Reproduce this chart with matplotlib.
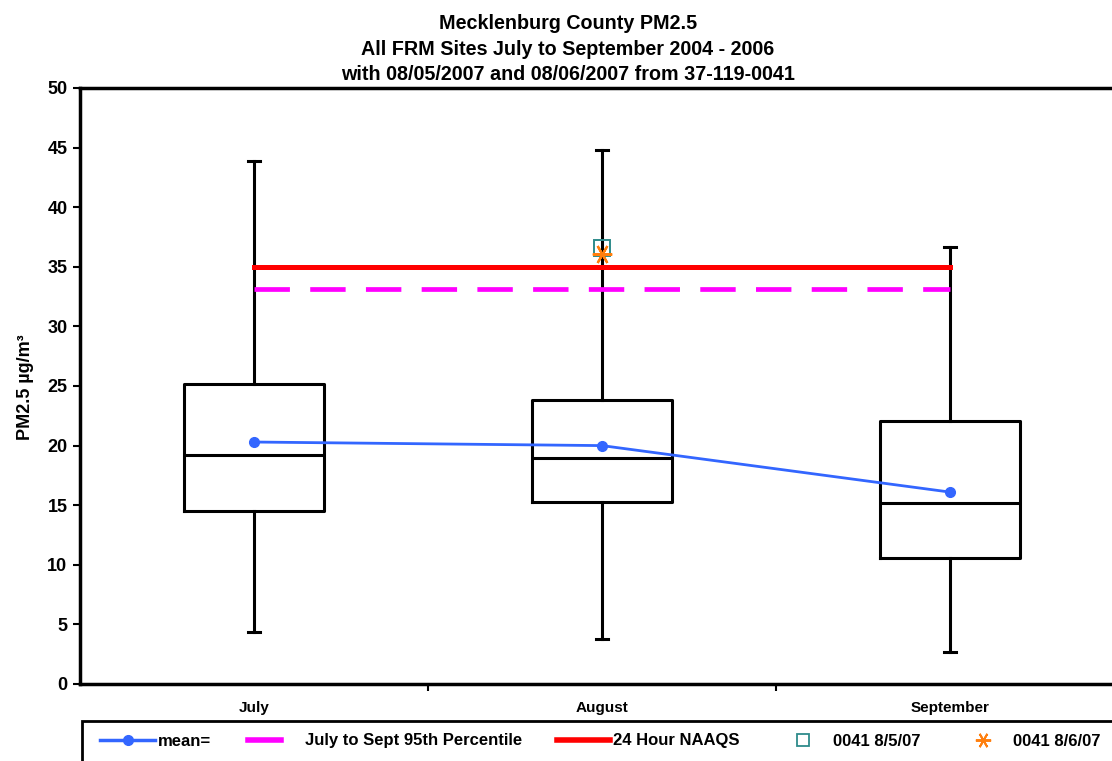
"""Mecklenburg County PM2.5 box plot, July-September 2004-2006."""

import matplotlib
matplotlib.use("Agg")
import matplotlib.pyplot as plt
from matplotlib.lines import Line2D
from matplotlib.patches import Rectangle

plt.rcParams["font.family"] = ["Liberation Sans", "DejaVu Sans"]
plt.rcParams["font.weight"] = "bold"

months = ["July", "August", "September"]
whisk_lo = [4.4, 3.8, 2.7]
q1 = [14.5, 15.3, 10.6]
median = [19.2, 19.0, 15.2]
q3 = [25.2, 23.8, 22.1]
whisk_hi = [43.9, 44.8, 36.7]
means = [20.3, 20.0, 16.1]

pct95 = 33.1
naaqs = 35.0
site_0805 = 36.6
site_0806 = 36.1

W, H = 1112, 761
fig = plt.figure(figsize=(W / 100, H / 100), dpi=100)
ax = fig.add_axes([80 / W, 1 - 684 / H, 1044 / W, 596 / H])

stats = [
    {"whislo": lo, "q1": a, "med": m, "q3": b, "whishi": hi, "label": name}
    for lo, a, m, b, hi, name in zip(whisk_lo, q1, median, q3, whisk_hi, months)
]
pos = [1, 2, 3]
ax.bxp(stats, positions=pos, widths=0.4, showfliers=False,
       boxprops=dict(color="black", lw=2.2),
       medianprops=dict(color="black", lw=2.2),
       whiskerprops=dict(color="black", lw=2.2),
       capprops=dict(color="black", lw=2.2),
       capwidths=0.035)

ax.plot([1, 3], [pct95, pct95], color="#FF00FF", lw=3.4, ls=(0, (7.5, 4.3)), zorder=3)
ax.plot([1, 3], [naaqs, naaqs], color="#FF0000", lw=3.6, zorder=3)
ax.plot(pos, means, color="#3366FF", lw=2, marker="o", ms=7, zorder=4)
ax.plot([2], [site_0805], ls="none", marker="s", ms=12, mfc="none",
        mec="#2E8B8B", mew=1.4, zorder=5)
ax.plot([2], [site_0806], ls="none", marker=(6, 2, 30), ms=14,
        mec="#FF7F0E", mew=1.6, zorder=6)

ax.set_xlim(0.5, 3.5)
ax.set_ylim(0, 50)
ax.set_yticks(range(0, 51, 5))
ax.set_xticks(pos)
ax.set_xticklabels(months, fontsize=11, fontweight="bold")
ax.set_xticks([1.5, 2.5, 3.5], minor=True)
ax.tick_params(axis="x", which="major", length=0, pad=12)
ax.tick_params(axis="x", which="minor", length=5, width=1.5, direction="out")
ax.tick_params(axis="y", labelsize=13, length=5, width=1.5, direction="out", pad=4)
for lbl in ax.get_yticklabels():
    lbl.set_fontweight("bold")
for side in ["left", "bottom", "top"]:
    ax.spines[side].set_linewidth(2.5)
ax.spines["right"].set_visible(False)

fig.text(26 / W, 1 - 387 / H, "PM2.5 µg/m³", rotation=90, ha="center", va="center",
         fontsize=13, fontweight="bold")

title_lines = ["Mecklenburg County PM2.5",
               "All FRM Sites July to September 2004 - 2006",
               "with 08/05/2007 and 08/06/2007 from 37-119-0041"]
for line, base in zip(title_lines, [29, 55, 80]):
    fig.text(568 / W, 1 - base / H, line, ha="center", va="baseline",
             fontsize=14.2, fontweight="bold")

# legend box along the bottom, each entry placed on its own
fig.patches.append(Rectangle((82 / W, -0.05), 1.0, 0.05 + 1 - 721 / H,
                             transform=fig.transFigure, fill=False,
                             edgecolor="black", lw=2))

entries = [
    (Line2D([], [], color="#3366FF", lw=2.5, marker="o", ms=7), "mean=", 100, 3.3, 0.15),
    (Line2D([], [], color="#FF00FF", lw=4), "July to Sept 95th Percentile", 248, 2.0, 1.4),
    (Line2D([], [], color="#FF0000", lw=4), "24 Hour NAAQS", 557, 3.2, 0.15),
    (Line2D([], [], ls="none", marker="s", ms=9, mfc="none", mec="#2E8B8B", mew=1.3),
     "0041 8/5/07", 795, 1.0, 1.3),
    (Line2D([], [], ls="none", marker=(6, 2, 30), ms=11, mec="#FF7F0E", mew=1.4),
     "0041 8/6/07", 975, 1.0, 1.3),
]
for handle, text, x0, hlen, tpad in entries:
    fig.legend([handle], [text], loc="center left",
               bbox_to_anchor=(x0 / W, 1 - 741 / H), frameon=False,
               prop={"size": 12, "weight": "bold"}, handlelength=hlen,
               handletextpad=tpad, borderpad=0, borderaxespad=0)

fig.savefig("out.png", dpi=100)
